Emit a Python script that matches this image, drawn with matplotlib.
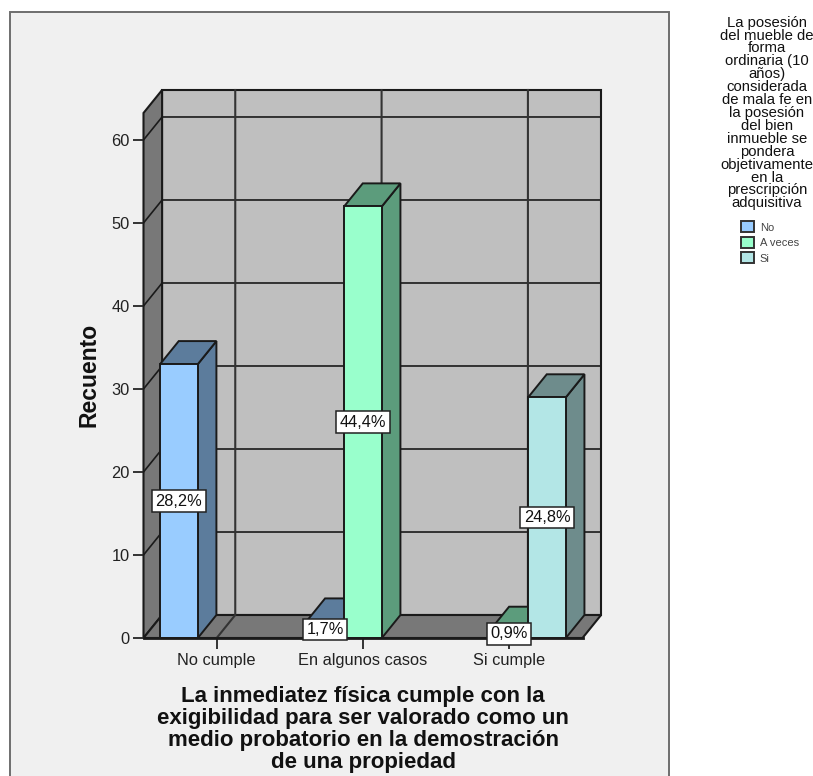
import matplotlib
matplotlib.use("Agg")
import matplotlib.pyplot as plt
from matplotlib.patches import Patch, Rectangle

categories = ["No cumple", "En algunos casos", "Si cumple"]
series_names = ["No", "A veces", "Si"]
counts_no = [33, 2, 0]
counts_aveces = [0, 52, 1]
counts_si = [0, 0, 29]
y_ticks = [0, 10, 20, 30, 40, 50, 60]
total = 117

front_colors = ["#99ccff", "#99ffcc", "#b3e6e6"]
side_colors = ["#5c7c9c", "#5c9c7c", "#6e8c8c"]

W, H = 813, 776
plt.rcParams["font.family"] = ["Liberation Sans", "DejaVu Sans"]

fig = plt.figure(figsize=(W / 100, H / 100), dpi=100, facecolor="white")

# chart panel, runs off the bottom edge
fig.add_artist(Rectangle((9.5 / W, -0.01), 659 / W, (H - 12) / H + 0.01,
                         transform=fig.transFigure, facecolor="#f0f0f0",
                         edgecolor="#6e6e6e", linewidth=1.4, zorder=-1))

ax = fig.add_axes([143.5 / W, (H - 638) / H, 439 / W, 525 / H])
ax.set_xlim(-0.5, 2.5)
ax.set_ylim(0, 63.25)
ax.patch.set_visible(False)
for s in ax.spines.values():
    s.set_visible(False)

# depth of the box in data units
dx = 0.127
dy = 2.77
bar_w = 0.2575
x0, x1 = ax.get_xlim()
ytop = ax.get_ylim()[1]
edge = "#1a1a1a"

# walls and floor
ax.fill([x0 + dx, x1 + dx, x1 + dx, x0 + dx], [dy, dy, ytop + dy, ytop + dy],
        facecolor="#bfbfbf", edgecolor=edge, lw=1.5, clip_on=False, zorder=1)
ax.fill([x0, x0 + dx, x0 + dx, x0], [0, dy, ytop + dy, ytop],
        facecolor="#787878", edgecolor=edge, lw=1.5, clip_on=False, zorder=1)
ax.fill([x0, x1, x1 + dx, x0 + dx], [0, 0, dy, dy],
        facecolor="#787878", edgecolor=edge, lw=1.5, clip_on=False, zorder=1)

# grid on the back wall, carried along the left wall and the floor
for v in y_ticks[1:]:
    ax.plot([x0, x0 + dx, x1 + dx], [v, v + dy, v + dy], color=edge, lw=1.2,
            clip_on=False, zorder=2)
for i in range(len(categories)):
    ax.plot([i, i + dx, i + dx], [0, dy, ytop + dy], color="#333333", lw=1.5,
            clip_on=False, zorder=2)


def draw_bar(cx, value, front, side):
    left, right = cx - bar_w / 2, cx + bar_w / 2
    ax.fill([right, right + dx, right + dx, right], [0, dy, value + dy, value],
            facecolor=side, edgecolor=edge, lw=1.4, clip_on=False, zorder=3)
    ax.fill([left, right, right + dx, left + dx], [value, value, value + dy, value + dy],
            facecolor=side, edgecolor=edge, lw=1.4, clip_on=False, zorder=3)
    ax.fill([left, right, right, left], [0, 0, value, value],
            facecolor=front, edgecolor=edge, lw=1.4, clip_on=False, zorder=3)


all_series = [counts_no, counts_aveces, counts_si]
for i in range(len(categories)):
    for j, counts in enumerate(all_series):
        if counts[i] > 0:
            draw_bar(i + (j - 1) * bar_w, counts[i], front_colors[j], side_colors[j])

for i in range(len(categories)):
    for j, counts in enumerate(all_series):
        if counts[i] > 0:
            pct = f"{100 * counts[i] / total:.1f}".replace(".", ",") + "%"
            ax.text(i + (j - 1) * bar_w, counts[i] / 2, pct, ha="center", va="center",
                    fontsize=11.8, color="#111111", zorder=6, clip_on=False,
                    bbox=dict(boxstyle="square,pad=0.2", facecolor="white",
                              edgecolor="#222222", linewidth=1.1))

ax.plot([x0, x1], [0, 0], color=edge, lw=2, clip_on=False, zorder=4)
ax.set_xticks(range(len(categories)))
ax.set_xticklabels(categories, fontsize=11.8, color="#222222")
ax.set_yticks(y_ticks)
ax.set_yticklabels(y_ticks, fontsize=11.8, color="#222222")
ax.tick_params(axis="x", length=8, width=1.4, color="#333333", pad=3)
ax.tick_params(axis="y", length=8, width=1.4, color="#333333", pad=2)

fig.text(89 / W, 1 - 375 / H, "Recuento", rotation=90, ha="center", va="center",
         fontsize=16.5, fontweight="bold", color="#111111")
fig.text(363 / W, 1 - 729.5 / H,
         "La inmediatez física cumple con la\n"
         "exigibilidad para ser valorado como un\n"
         "medio probatorio en la demostración\n"
         "de una propiedad",
         ha="center", va="center", fontsize=16, fontweight="bold",
         color="#111111", linespacing=1.07)

# legend
fig.text(767 / W, 1 - 113 / H,
         "La posesión\ndel mueble de\nforma\nordinaria (10\naños)\nconsiderada\n"
         "de mala fe en\nla posesión\ndel bien\ninmueble se\npondera\nobjetivamente\n"
         "en la\nprescripción\nadquisitiva",
         ha="center", va="center", fontsize=10.7, color="#111111", linespacing=0.9)
handles = [Patch(facecolor=c, edgecolor="#333333", linewidth=1.4, label=n)
           for c, n in zip(front_colors, series_names)]
fig.legend(handles=handles, loc="upper left", bbox_to_anchor=(738 / W, 1 - 218 / H),
           frameon=False, fontsize=8, labelcolor="#444444", handlelength=1.15,
           handleheight=1.15, handletextpad=0.5, labelspacing=0.38, borderpad=0.3,
           borderaxespad=0)

fig.savefig("out.png", dpi=100)
